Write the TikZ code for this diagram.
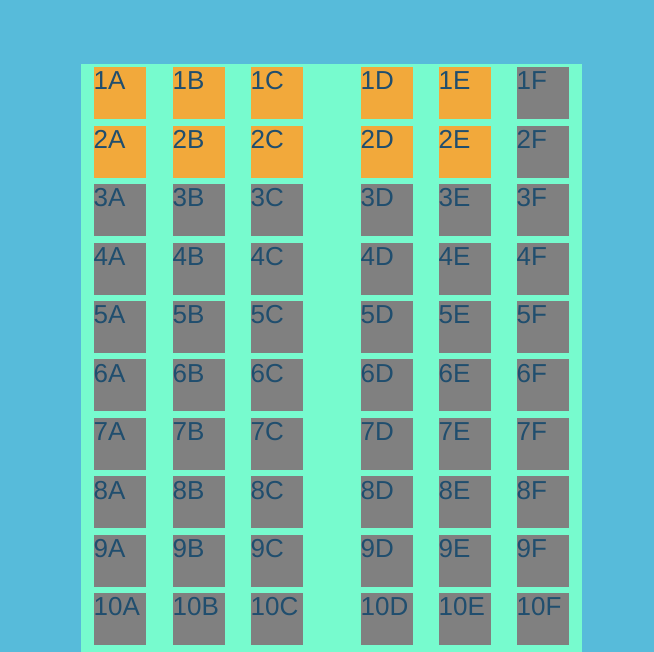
\documentclass[tikz,border=0pt]{standalone}
\usepackage{fontspec}
\setmainfont{Liberation Sans}
\definecolor{bgblue}{HTML}{57BBDA}
\definecolor{panelgreen}{HTML}{77FBCE}
\definecolor{seatorange}{HTML}{F2A93B}
\definecolor{seatgray}{HTML}{808080}
\definecolor{seattext}{HTML}{204E6E}
\tikzset{
  seatbox/.style={rectangle, inner sep=0pt, minimum width=52pt, minimum height=52pt, anchor=north west},
  seatlbl/.style={inner sep=0pt, anchor=base west, text=seattext, font=\fontsize{26}{30}\selectfont}
}
\begin{document}
\begin{tikzpicture}[x=1pt,y=-1pt]
\useasboundingbox (0,0) rectangle (654,652);
\clip (0,0) rectangle (654,652);
\fill[bgblue] (0,0) rectangle (654,652);
\fill[panelgreen] (81,64) rectangle (582,660);
\foreach \r in {1,...,11} {
  \pgfmathsetmacro\yy{67+58.44*(\r-1)}
  \foreach \c/\x/\o in {A/94/1,B/173/1,C/251/1,D/361/1,E/439/1,F/517/0} {
    \def\seatcol{seatgray}
    \ifnum\r<3\relax\ifnum\o=1\relax\def\seatcol{seatorange}\fi\fi
    \node[seatbox, fill=\seatcol] (s\r\c) at (\x,\yy) {};
    \ifnum\r<11\relax
      \node[seatlbl] (t\r\c) at (\x-0.5,\yy+23) {\r\c};
    \fi
  }
}
\end{tikzpicture}
\end{document}
